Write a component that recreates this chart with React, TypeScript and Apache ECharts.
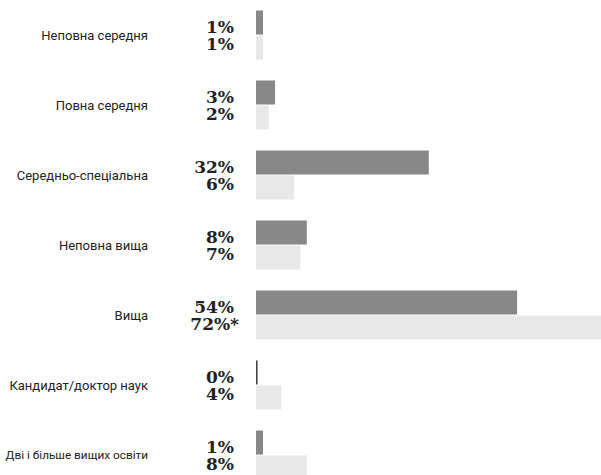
import React, { useEffect, useRef } from "react";
import * as echarts from "echarts";

const categories = [
  "Неповна середня",
  "Повна середня",
  "Середньо-спеціальна",
  "Неповна вища",
  "Вища",
  "Кандидат/доктор наук",
  "Дві і більше вищих освіти",
];
// bar lengths as drawn in the picture
const darkValues = [1.1, 3, 27.2, 8, 41.1, 0.25, 1.1];
const lightValues = [1.1, 2, 6, 7, 72, 4, 8];
// printed labels
const darkLabels = ["1%", "3%", "32%", "8%", "54%", "0%", "1%"];
const lightLabels = ["1%", "2%", "6%", "7%", "72%*", "4%", "8%"];

const labelFont = '"DejaVu Serif", serif';

export default function App() {
  const ref = useRef<HTMLDivElement>(null);
  useEffect(() => {
    if (!ref.current) return;
    const chart = echarts.init(ref.current, null, { renderer: "svg" });
    const baseLabel = {
      show: true,
      position: "left",
      distance: 22,
      fontFamily: labelFont,
      fontWeight: "bold",
      fontSize: 17,
      lineHeight: 17,
      color: "#222",
    };
    chart.setOption({
      animation: false,
      grid: {
        left: 256,
        right: 0,
        top: 0,
        bottom: 0,
        containLabel: false,
        outerBoundsMode: "none",
      },
      xAxis: {
        type: "value",
        min: 0,
        max: 54.3,
        show: false,
      },
      yAxis: {
        type: "category",
        inverse: true,
        data: categories.map((c, i) =>
          i === categories.length - 1
            ? { value: c, textStyle: { fontSize: 11.8 } }
            : c
        ),
        axisLine: { show: false },
        axisTick: { show: false },
        splitLine: { show: false },
        axisLabel: {
          margin: 108,
          fontFamily: '"Liberation Sans Narrow", "Roboto", sans-serif',
          fontSize: 13,
          color: "#222",
        },
      },
      series: [
        {
          type: "bar",
          barWidth: 24,
          barGap: "4%",
          data: darkValues.map((v, i) => ({
            value: v,
            itemStyle: { color: i === 5 ? "#444" : "#888888" },
          })),
          label: {
            ...baseLabel,
            offset: [0, 4.5],
            formatter: (p: any) => darkLabels[p.dataIndex],
          },
        },
        {
          type: "bar",
          barWidth: 24,
          barGap: "4%",
          itemStyle: { color: "#e8e8e8" },
          data: lightValues.map((v, i) =>
            lightLabels[i].endsWith("*")
              ? { value: v, label: { distance: 17 } }
              : { value: v }
          ),
          label: {
            ...baseLabel,
            offset: [0, -3.5],
            formatter: (p: any) => lightLabels[p.dataIndex],
          },
        },
      ],
    });
    return () => chart.dispose();
  }, []);
  return (
    <div
      style={{
        position: "fixed",
        left: 0,
        top: 0,
        width: 601,
        height: 475,
        overflow: "hidden",
        background: "#fff",
      }}
    >
      <div ref={ref} style={{ width: 601, height: 490 }} />
    </div>
  );
}
